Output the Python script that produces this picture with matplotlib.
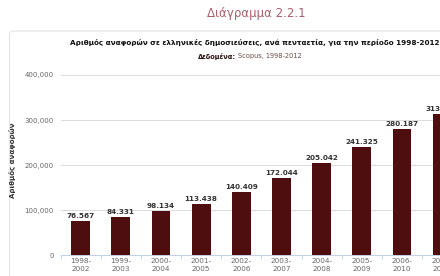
import matplotlib.pyplot as plt
from matplotlib.patches import FancyBboxPatch
from matplotlib.ticker import FuncFormatter

periods = ["1998-\n2002", "1999-\n2003", "2000-\n2004", "2001-\n2005", "2002-\n2006",
           "2003-\n2007", "2004-\n2008", "2005-\n2009", "2006-\n2010", "2007-\n2011"]
citations = [76567, 84331, 98134, 113438, 140409, 172044, 205042, 241325, 280187, 313000]
y_ticks = [0, 100000, 200000, 300000, 400000]

bar_color = "#4e0e10"
W, H = 440, 276

fig = plt.figure(figsize=(4.4, 2.76), dpi=100)

# card background
card = FancyBboxPatch((9.5 / W, -0.1), 1.2, (276 - 31) / H + 0.1,
                      boxstyle="round,pad=0,rounding_size=0.01",
                      transform=fig.transFigure, facecolor="white",
                      edgecolor="#e4e4e4", linewidth=0.8, zorder=-5)
fig.patches.append(card)

fig.text(256 / W, 1 - 14 / H, "Διάγραμμα 2.2.1", ha="center", va="center",
         fontsize=8.5, color="#a8606a")
fig.text(255 / W, 1 - 43 / H,
         "Αριθμός αναφορών σε ελληνικές δημοσιεύσεις, ανά πενταετία, για την περίοδο 1998-2012",
         ha="center", va="center", fontsize=5.2, fontweight="bold", color="#111111")
fig.text(236 / W, 1 - 56 / H, "Δεδομένα:", ha="right", va="center",
         fontsize=4.8, fontweight="bold", color="#2a1010")
fig.text(238 / W, 1 - 56 / H, "Scopus, 1998-2012", ha="left", va="center",
         fontsize=4.8, color="#6a4a4a")

ax = fig.add_axes([60.5 / W, 1 - 255.3 / H, 442 / W, 180.3 / H])
ax.set_zorder(1)
x = list(range(len(periods)))
ax.bar(x, citations, width=0.47, color=bar_color, zorder=3)
for xi, v in zip(x, citations):
    ax.text(xi, v + 4000, f"{v:,}".replace(",", "."), ha="center", va="bottom",
            fontsize=5.2, fontweight="bold", color="#333333", zorder=4)

ax.set_xlim(-0.5, 10.5)
ax.set_ylim(0, 400000)
ax.set_yticks(y_ticks)
ax.yaxis.set_major_formatter(FuncFormatter(lambda v, p: "0" if v == 0 else f"{int(v):,}"))
ax.set_xticks(x)
ax.set_xticklabels(periods, fontsize=5.2, color="#666666", linespacing=1.45)
ax.set_xticks([i + 0.5 for i in range(-1, 11)], minor=True)
ax.tick_params(axis="x", which="major", length=0, pad=2)
ax.tick_params(axis="x", which="minor", length=3, color="#c0d0e0", width=0.6)
ax.tick_params(axis="y", length=0, labelsize=5, labelcolor="#666666", pad=5)
ax.grid(axis="y", color="#dcdcdc", linewidth=0.7, zorder=0)
for s in ["top", "right", "left"]:
    ax.spines[s].set_visible(False)
ax.spines["bottom"].set_color("#c0d0e0")
ax.spines["bottom"].set_linewidth(0.7)
ax.set_facecolor("none")

fig.text(13 / W, 1 - 160 / H, "Αριθμός αναφορών", rotation=90, ha="center", va="center",
         fontsize=5, fontweight="bold", color="#333333")

fig.savefig("out.png", dpi=100)
